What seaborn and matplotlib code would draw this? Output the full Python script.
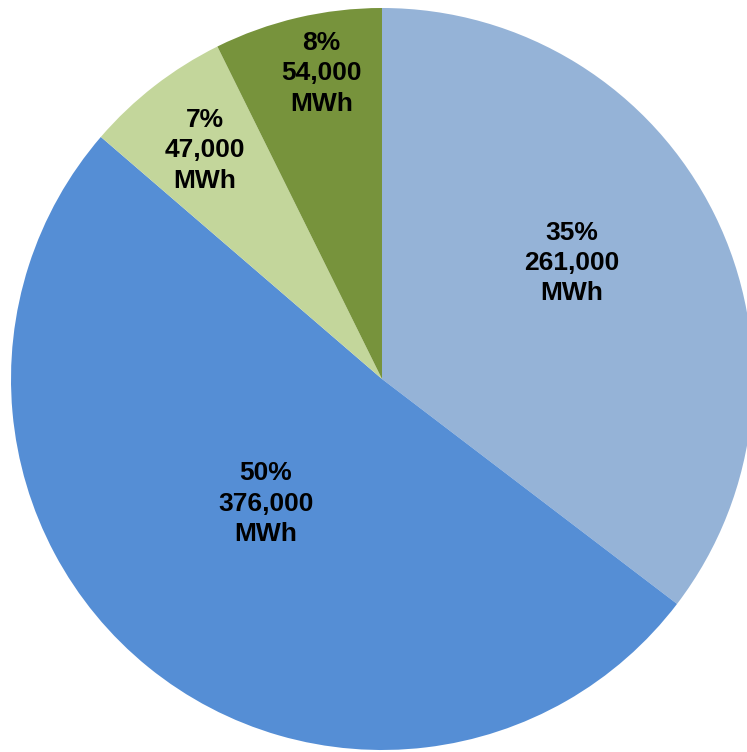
import numpy as np
import matplotlib
matplotlib.use('Agg')
import matplotlib.pyplot as plt
import seaborn as sns

# energy split, clockwise from 12 o'clock
mwh = [261000, 376000, 47000, 54000]
pct_labels = ['35%', '50%', '7%', '8%']
colors = ['#95B3D7', '#558ED5', '#C3D69B', '#77933C']

# label placement (fraction of radius, angle nudge in degrees)
label_r = [0.60, 0.46, 0.78, 0.84]
label_dtheta = [5, -4, 0, -2]

sns.set_theme(style='white')
plt.rcParams['font.family'] = ['Liberation Sans', 'DejaVu Sans']

fig = plt.figure(figsize=(7.47, 7.52), dpi=100)
ax = fig.add_axes([0, 0, 1, 1])

R = 371.0
cx, cy = 382.0, 379.0  # pixel centre, from top-left
wedges, _ = ax.pie(mwh, colors=colors, startangle=90, counterclock=False,
                   radius=1.0, wedgeprops=dict(linewidth=0))

for w, p, v, r, dt in zip(wedges, pct_labels, mwh, label_r, label_dtheta):
    mid = np.deg2rad((w.theta1 + w.theta2) / 2 + dt)
    ax.text(r * np.cos(mid), r * np.sin(mid), f'{p}\n{v:,}\nMWh',
            ha='center', va='center', fontsize=19, fontweight='bold',
            color='black', linespacing=1.33)

ax.set_xlim(-cx / R, (747 - cx) / R)
ax.set_ylim(-(752 - cy) / R, cy / R)
ax.set_aspect('auto')
ax.axis('off')

fig.savefig('out.png', dpi=100, facecolor='white')
